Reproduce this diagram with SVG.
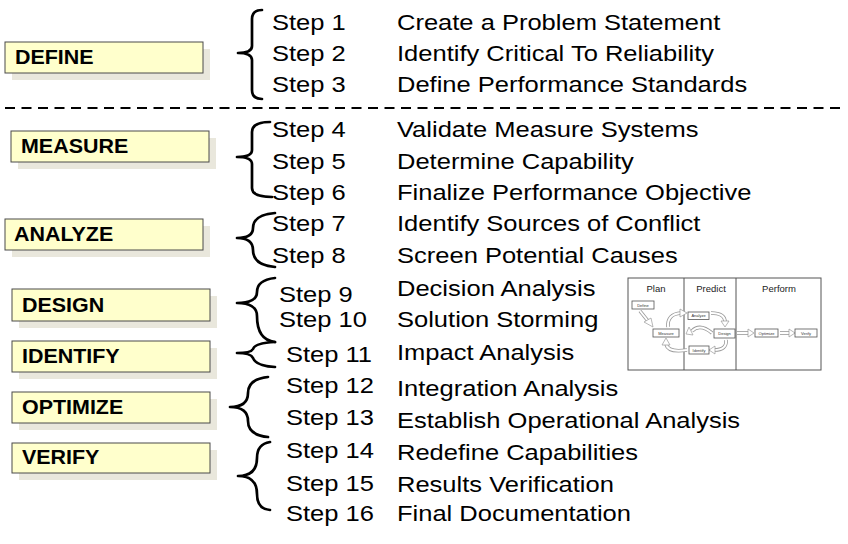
<svg xmlns="http://www.w3.org/2000/svg" width="848" height="544" viewBox="0 0 848 544">
<defs>
<style>
.bg{fill:#ffffff}
.sh{fill:#e9e7dc}
.box{fill:#ffffcc;stroke:#4a4a4a;stroke-width:1}
.lbl{font-family:"Liberation Sans",Arial,sans-serif;font-weight:bold;font-size:19.5px;fill:#000}
.st{font-family:"Liberation Sans",Arial,sans-serif;font-size:22px;fill:#000}
.brace{fill:none;stroke:#000;stroke-width:2.7;stroke-linecap:round;stroke-linejoin:round}
.dash{stroke:#000;stroke-width:2;stroke-dasharray:10 6.5}
.ibox{fill:#fff;stroke:#555;stroke-width:1}
.ititle{font-family:"Liberation Sans",Arial,sans-serif;font-size:9.5px;fill:#222;text-anchor:middle}
.sb{fill:#fff;stroke:#555;stroke-width:0.8}
.stx{font-family:"Liberation Sans",Arial,sans-serif;font-size:4px;fill:#333;text-anchor:middle}
.aout{fill:none;stroke:#999;stroke-width:3.6}
.ain{fill:none;stroke:#fff;stroke-width:2}
.ahd{fill:#fff;stroke:#999;stroke-width:0.7}
</style>
</defs>
<rect class="bg" x="0" y="0" width="848" height="544"/>

<g id="divider">
<line class="dash" x1="5" y1="108" x2="843" y2="108"/>
</g>

<g id="define">
<rect class="sh" x="12" y="49" width="198" height="31"/>
<rect class="box" x="5" y="42" width="198" height="31"/>
<text class="lbl" transform="translate(15 64) scale(1.1 1)">DEFINE</text>
</g>
<g id="measure">
<rect class="sh" x="18" y="138" width="198" height="31"/>
<rect class="box" x="11" y="131" width="198" height="31"/>
<text class="lbl" transform="translate(21 153) scale(1.1 1)">MEASURE</text>
</g>
<g id="analyze">
<rect class="sh" x="12" y="226" width="198" height="31"/>
<rect class="box" x="5" y="219" width="198" height="31"/>
<text class="lbl" transform="translate(14 241) scale(1.1 1)">ANALYZE</text>
</g>
<g id="design">
<rect class="sh" x="19" y="296" width="198" height="32"/>
<rect class="box" x="12" y="289" width="198" height="32"/>
<text class="lbl" transform="translate(22 312) scale(1.1 1)">DESIGN</text>
</g>
<g id="identify">
<rect class="sh" x="19" y="348" width="198" height="31"/>
<rect class="box" x="12" y="341" width="198" height="31"/>
<text class="lbl" transform="translate(22 363) scale(1.1 1)">IDENTIFY</text>
</g>
<g id="optimize">
<rect class="sh" x="19" y="399" width="198" height="31"/>
<rect class="box" x="12" y="392" width="198" height="31"/>
<text class="lbl" transform="translate(22 414) scale(1.1 1)">OPTIMIZE</text>
</g>
<g id="verify">
<rect class="sh" x="19" y="450" width="198" height="30"/>
<rect class="box" x="12" y="443" width="198" height="30"/>
<text class="lbl" transform="translate(22 464) scale(1.1 1)">VERIFY</text>
</g>

<g id="connectors">
<path class="brace" d="M262 10 Q252 10 252 19 L252 46 Q252 53 238 53 Q252 53 252 60 L252 90 Q252 99 262 99"/>
<path class="brace" d="M270 122 Q252 122 252 132 L252 150 Q252 157 237 157 Q252 157 252 164 L252 188 Q252 197 272 197"/>
<path class="brace" d="M275 213 Q253 215 253 228 Q253 238 237 238 Q253 238 253 250 Q253 265 275 267"/>
<path class="brace" d="M275 278 Q257 280 257 292 Q257 303 237 303 Q257 303 257 316 Q257 340 275 342"/>
<path class="brace" d="M275 342 Q255 343 253 349 Q251 353 237 353 Q251 353 253 358 Q256 366 275 367"/>
<path class="brace" d="M268 377 Q248 379 248 393 Q248 407 230 407 Q248 407 248 421 Q248 435 268 437"/>
<path class="brace" d="M270 442 Q257 444 257 458 Q257 476 238 476 Q257 476 257 494 Q257 509 270 510"/>
</g>

<g id="steps-define">
<text class="st" transform="translate(272 29.5) scale(1.16 1)">Step 1</text>
<text class="st" transform="translate(397 29.5) scale(1.16 1)">Create a Problem Statement</text>
<text class="st" transform="translate(272 61) scale(1.16 1)">Step 2</text>
<text class="st" transform="translate(397 61) scale(1.16 1)">Identify Critical To Reliability</text>
<text class="st" transform="translate(272 92) scale(1.16 1)">Step 3</text>
<text class="st" transform="translate(397 92) scale(1.16 1)">Define Performance Standards</text>
</g>
<g id="steps-measure">
<text class="st" transform="translate(272 137) scale(1.16 1)">Step 4</text>
<text class="st" transform="translate(397 137) scale(1.16 1)">Validate Measure Systems</text>
<text class="st" transform="translate(272 169) scale(1.16 1)">Step 5</text>
<text class="st" transform="translate(397 169) scale(1.16 1)">Determine Capability</text>
<text class="st" transform="translate(272 200) scale(1.16 1)">Step 6</text>
<text class="st" transform="translate(397 200) scale(1.16 1)">Finalize Performance Objective</text>
</g>
<g id="steps-analyze">
<text class="st" transform="translate(272 231) scale(1.16 1)">Step 7</text>
<text class="st" transform="translate(397 231) scale(1.16 1)">Identify Sources of Conflict</text>
<text class="st" transform="translate(272 263) scale(1.16 1)">Step 8</text>
<text class="st" transform="translate(397 263) scale(1.16 1)">Screen Potential Causes</text>
</g>
<g id="steps-design">
<text class="st" transform="translate(279 302) scale(1.16 1)">Step 9</text>
<text class="st" transform="translate(397 296) scale(1.16 1)">Decision Analysis</text>
<text class="st" transform="translate(279 327) scale(1.16 1)">Step 10</text>
<text class="st" transform="translate(397 327) scale(1.16 1)">Solution Storming</text>
</g>
<g id="steps-identify">
<text class="st" transform="translate(286 362) scale(1.16 1)">Step 11</text>
<text class="st" transform="translate(397 360) scale(1.16 1)">Impact Analysis</text>
</g>
<g id="steps-optimize">
<text class="st" transform="translate(286 393) scale(1.16 1)">Step 12</text>
<text class="st" transform="translate(397 396) scale(1.16 1)">Integration Analysis</text>
<text class="st" transform="translate(286 425) scale(1.16 1)">Step 13</text>
<text class="st" transform="translate(397 428) scale(1.16 1)">Establish Operational Analysis</text>
</g>
<g id="steps-verify">
<text class="st" transform="translate(286 458) scale(1.16 1)">Step 14</text>
<text class="st" transform="translate(397 460) scale(1.16 1)">Redefine Capabilities</text>
<text class="st" transform="translate(286 491) scale(1.16 1)">Step 15</text>
<text class="st" transform="translate(397 492) scale(1.16 1)">Results Verification</text>
<text class="st" transform="translate(286 521) scale(1.16 1)">Step 16</text>
<text class="st" transform="translate(397 521) scale(1.16 1)">Final Documentation</text>
</g>

<g id="inset">
<rect class="ibox" x="628" y="278" width="193" height="92"/>
<line x1="684" y1="278" x2="684" y2="370" stroke="#555" stroke-width="1"/>
<line x1="736" y1="278" x2="736" y2="370" stroke="#555" stroke-width="1"/>
<text class="ititle" x="656" y="292">Plan</text>
<text class="ititle" x="711" y="292">Predict</text>
<text class="ititle" x="779" y="292">Perform</text>
<g id="inset-arrows">
<path class="aout" d="M640 311 L648 321"/><path class="ain" d="M640 311 L648 321"/>
<polygon class="ahd" points="644,322 651,318 653,327"/>
<path class="aout" d="M668 327 Q667 314 681 313"/><path class="ain" d="M668 327 Q667 314 681 313"/>
<polygon class="ahd" points="680,309 687,313 680,317"/>
<path class="aout" d="M711 313 Q725 313 725 322"/><path class="ain" d="M711 313 Q725 313 725 322"/>
<polygon class="ahd" points="721,321 729,321 725,327"/>
<path class="aout" d="M712 333 Q700 323 692 331"/><path class="ain" d="M712 333 Q700 323 692 331"/>
<polygon class="ahd" points="689,327 693,335 686,334"/>
<path class="aout" d="M726 340 Q727 350 714 350"/><path class="ain" d="M726 340 Q727 350 714 350"/>
<polygon class="ahd" points="715,346 709,350 715,354"/>
<path class="aout" d="M687 350 Q668 353 666 344"/><path class="ain" d="M687 350 Q668 353 666 344"/>
<polygon class="ahd" points="662,345 666,338 670,345"/>
<path class="aout" d="M737 333 L748 333"/><path class="ain" d="M737 333 L748 333"/>
<polygon class="ahd" points="748,329 754,333 748,337"/>
<path class="aout" d="M780 333 L789 333"/><path class="ain" d="M780 333 L789 333"/>
<polygon class="ahd" points="789,329 795,333 789,337"/>
</g>
<g id="inset-define"><rect class="sb" x="632" y="301" width="22" height="8"/><text class="stx" x="643" y="306.5">Define</text></g>
<g id="inset-measure"><rect class="sb" x="653" y="329" width="26" height="8"/><text class="stx" x="666" y="334.5">Measure</text></g>
<g id="inset-analyze"><rect class="sb" x="688" y="312" width="21" height="7.5"/><text class="stx" x="698.5" y="317">Analyze</text></g>
<g id="inset-design"><rect class="sb" x="714" y="329" width="21" height="9"/><text class="stx" x="724.5" y="335">Design</text></g>
<g id="inset-identify"><rect class="sb" x="689" y="346" width="20" height="8"/><text class="stx" x="699" y="351.5">Identify</text></g>
<g id="inset-optimize"><rect class="sb" x="755" y="329" width="23" height="8"/><text class="stx" x="766.5" y="334.5">Optimize</text></g>
<g id="inset-verify"><rect class="sb" x="795" y="329" width="22" height="8"/><text class="stx" x="806" y="334.5">Verify</text></g>
</g>
</svg>
